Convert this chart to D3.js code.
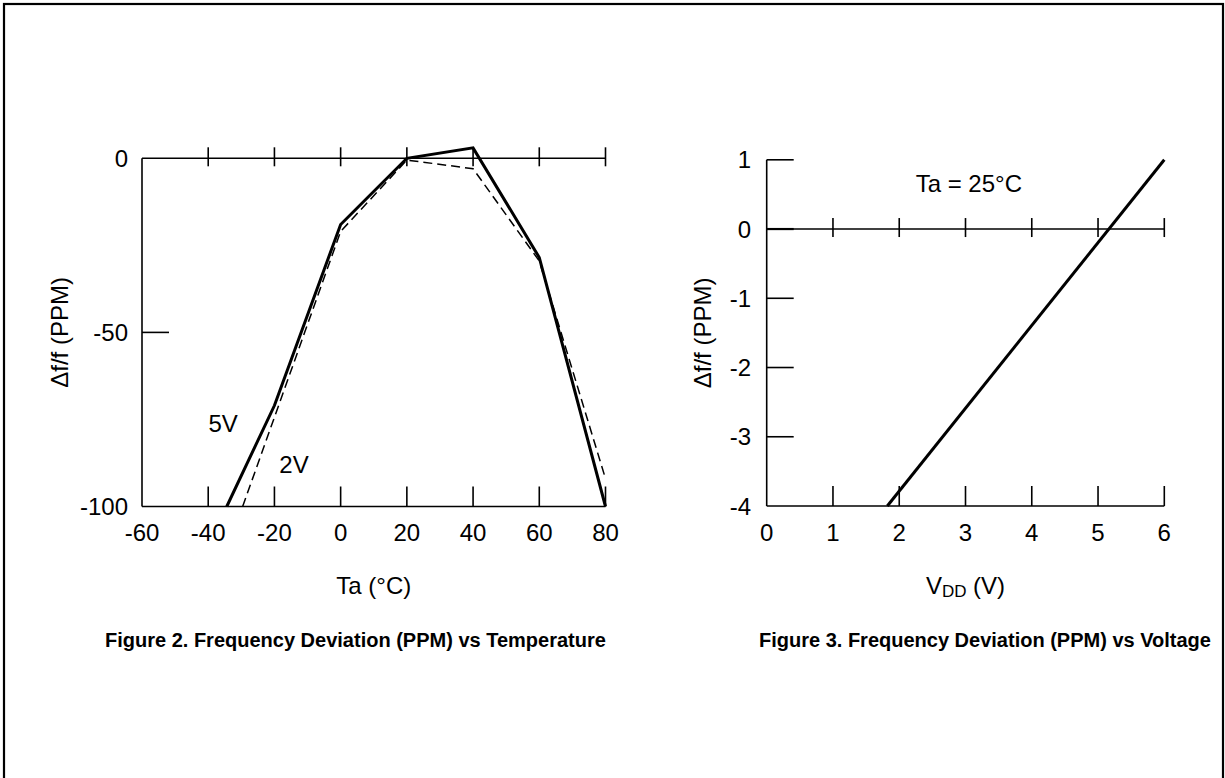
<!DOCTYPE html>
<html>
<head>
<meta charset="utf-8">
<script src="https://cdn.jsdelivr.net/npm/d3@7"></script>
<style>
  html, body { margin: 0; padding: 0; background: #fff; }
  svg { display: block; }
  text { font-family: "Liberation Sans", Arial, sans-serif; fill: #000; }
</style>
</head>
<body>
<svg id="chart" width="1225" height="778"></svg>
<script>
// ---- Data ----
const tempTicks = [-60, -40, -20, 0, 20, 40, 60, 80];
const ppmTicks = [0, -50, -100];
const temp5V = [-34.4, -20, 0, 20, 40, 60, 80];
const ppm5V  = [-100, -71, -19, 0, 3, -28.5, -100];
const temp2V = [-29.6, 0, 20, 40, 60, 80];
const ppm2V  = [-100, -21, -0.5, -3, -29.5, -92];
const label5V = "5V", label2V = "2V";
const labelPos5V = [-35.5, -76];
const labelPos2V = [-14.1, -88];

const vddTicks = [0, 1, 2, 3, 4, 5, 6];
const devTicks = [1, 0, -1, -2, -3, -4];
const vddLine = [1.82, 6];
const devLine = [-4, 1];
const noteText = "Ta = 25°C";
const notePos = [3.05, 0.66];

const caption2 = "Figure 2. Frequency Deviation (PPM) vs Temperature";
const caption3 = "Figure 3. Frequency Deviation (PPM) vs Voltage";

const svg = d3.select("#chart");

// outer frame
svg.append("rect").attr("x", 4).attr("y", 4).attr("width", 1219).attr("height", 820)
  .attr("fill", "none").attr("stroke", "#000").attr("stroke-width", 2.2);

const FS = 24;

// ---------- Figure 2 ----------
const x1 = d3.scaleLinear().domain([-60, 80]).range([142, 605.5]);
const y1 = d3.scaleLinear().domain([-100, 0]).range([506.5, 158.3]);
const g1 = svg.append("g");

g1.append("line").attr("x1", x1(-60)).attr("x2", x1(-60)).attr("y1", y1(0)).attr("y2", y1(-100))
  .attr("stroke", "#000").attr("stroke-width", 1.6);
g1.append("line").attr("x1", x1(-60)).attr("x2", x1(80)).attr("y1", y1(-100)).attr("y2", y1(-100))
  .attr("stroke", "#000").attr("stroke-width", 1.6);
g1.append("line").attr("x1", x1(-60)).attr("x2", x1(80)).attr("y1", y1(0)).attr("y2", y1(0))
  .attr("stroke", "#000").attr("stroke-width", 1.6);
tempTicks.filter(t => t > -60).forEach(t => {
  g1.append("line").attr("x1", x1(t)).attr("x2", x1(t)).attr("y1", y1(0) - 11).attr("y2", y1(0) + 8)
    .attr("stroke", "#000").attr("stroke-width", 1.6);
  g1.append("line").attr("x1", x1(t)).attr("x2", x1(t)).attr("y1", y1(-100) - 20).attr("y2", y1(-100))
    .attr("stroke", "#000").attr("stroke-width", 1.6);
});
ppmTicks.filter(v => v !== 0 && v !== -100).forEach(v => {
  g1.append("line").attr("x1", x1(-60)).attr("x2", x1(-60) + 27).attr("y1", y1(v)).attr("y2", y1(v))
    .attr("stroke", "#000").attr("stroke-width", 1.6);
});
tempTicks.forEach(t => {
  g1.append("text").attr("x", x1(t)).attr("y", 541).attr("text-anchor", "middle")
    .attr("font-size", FS).text(t);
});
ppmTicks.forEach(v => {
  g1.append("text").attr("x", 128).attr("y", y1(v)).attr("dy", "0.36em").attr("text-anchor", "end")
    .attr("font-size", FS).text(v);
});
g1.append("text").attr("x", (x1(-60) + x1(80)) / 2).attr("y", 594).attr("text-anchor", "middle")
  .attr("font-size", FS).text("Ta (°C)");
g1.append("text").attr("transform", `translate(68,${(y1(0) + y1(-100)) / 2}) rotate(-90)`)
  .attr("text-anchor", "middle").attr("font-size", FS).text("Δf/f (PPM)");

const line1 = d3.line().x(d => x1(d[0])).y(d => y1(d[1]));
g1.append("path").datum(temp2V.map((t, i) => [t, ppm2V[i]])).attr("d", line1)
  .attr("fill", "none").attr("stroke", "#000").attr("stroke-width", 1.5).attr("stroke-dasharray", "9,5");
g1.append("path").datum(temp5V.map((t, i) => [t, ppm5V[i]])).attr("d", line1)
  .attr("fill", "none").attr("stroke", "#000").attr("stroke-width", 3);
g1.append("text").attr("x", x1(labelPos5V[0])).attr("y", y1(labelPos5V[1])).attr("dy", "0.36em")
  .attr("text-anchor", "middle").attr("font-size", FS).text(label5V);
g1.append("text").attr("x", x1(labelPos2V[0])).attr("y", y1(labelPos2V[1])).attr("dy", "0.36em")
  .attr("text-anchor", "middle").attr("font-size", FS).text(label2V);

svg.append("text").attr("x", 105).attr("y", 647).attr("font-size", 20)
  .attr("font-weight", "bold").text(caption2);

// ---------- Figure 3 ----------
const x2 = d3.scaleLinear().domain([0, 6]).range([766.7, 1164.3]);
const y2 = d3.scaleLinear().domain([-4, 1]).range([506, 159.8]);
const g2 = svg.append("g");

g2.append("line").attr("x1", x2(0)).attr("x2", x2(0)).attr("y1", y2(1)).attr("y2", y2(-4))
  .attr("stroke", "#000").attr("stroke-width", 1.6);
g2.append("line").attr("x1", x2(0)).attr("x2", x2(6)).attr("y1", y2(-4)).attr("y2", y2(-4))
  .attr("stroke", "#000").attr("stroke-width", 1.6);
g2.append("line").attr("x1", x2(0)).attr("x2", x2(6)).attr("y1", y2(0)).attr("y2", y2(0))
  .attr("stroke", "#000").attr("stroke-width", 1.6);
vddTicks.filter(t => t > 0).forEach(t => {
  g2.append("line").attr("x1", x2(t)).attr("x2", x2(t)).attr("y1", y2(0) - 11).attr("y2", y2(0) + 8)
    .attr("stroke", "#000").attr("stroke-width", 1.6);
  g2.append("line").attr("x1", x2(t)).attr("x2", x2(t)).attr("y1", y2(-4) - 20).attr("y2", y2(-4))
    .attr("stroke", "#000").attr("stroke-width", 1.6);
});
devTicks.filter(v => v !== -4).forEach(v => {
  g2.append("line").attr("x1", x2(0)).attr("x2", x2(0) + 27).attr("y1", y2(v)).attr("y2", y2(v))
    .attr("stroke", "#000").attr("stroke-width", v === 0 ? 2.2 : 1.6);
});
vddTicks.forEach(t => {
  g2.append("text").attr("x", x2(t)).attr("y", 541).attr("text-anchor", "middle")
    .attr("font-size", FS).text(t);
});
devTicks.forEach(v => {
  g2.append("text").attr("x", 751).attr("y", y2(v)).attr("dy", "0.36em").attr("text-anchor", "end")
    .attr("font-size", FS).text(v);
});
const vt = g2.append("text").attr("x", (x2(0) + x2(6)) / 2).attr("y", 594).attr("text-anchor", "middle")
  .attr("font-size", FS);
vt.append("tspan").text("V");
vt.append("tspan").attr("font-size", 17).attr("dy", 3).text("DD");
vt.append("tspan").attr("dy", -3).text(" (V)");
g2.append("text").attr("transform", `translate(711,${(y2(1) + y2(-4)) / 2}) rotate(-90)`)
  .attr("text-anchor", "middle").attr("font-size", FS).text("Δf/f (PPM)");

const line2 = d3.line().x(d => x2(d[0])).y(d => y2(d[1]));
g2.append("path").datum(vddLine.map((t, i) => [t, devLine[i]])).attr("d", line2)
  .attr("fill", "none").attr("stroke", "#000").attr("stroke-width", 3);
g2.append("text").attr("x", x2(notePos[0])).attr("y", y2(notePos[1])).attr("dy", "0.36em")
  .attr("text-anchor", "middle").attr("font-size", FS).text(noteText);

svg.append("text").attr("x", 759).attr("y", 647).attr("font-size", 20)
  .attr("font-weight", "bold").text(caption3);
</script>
</body>
</html>
